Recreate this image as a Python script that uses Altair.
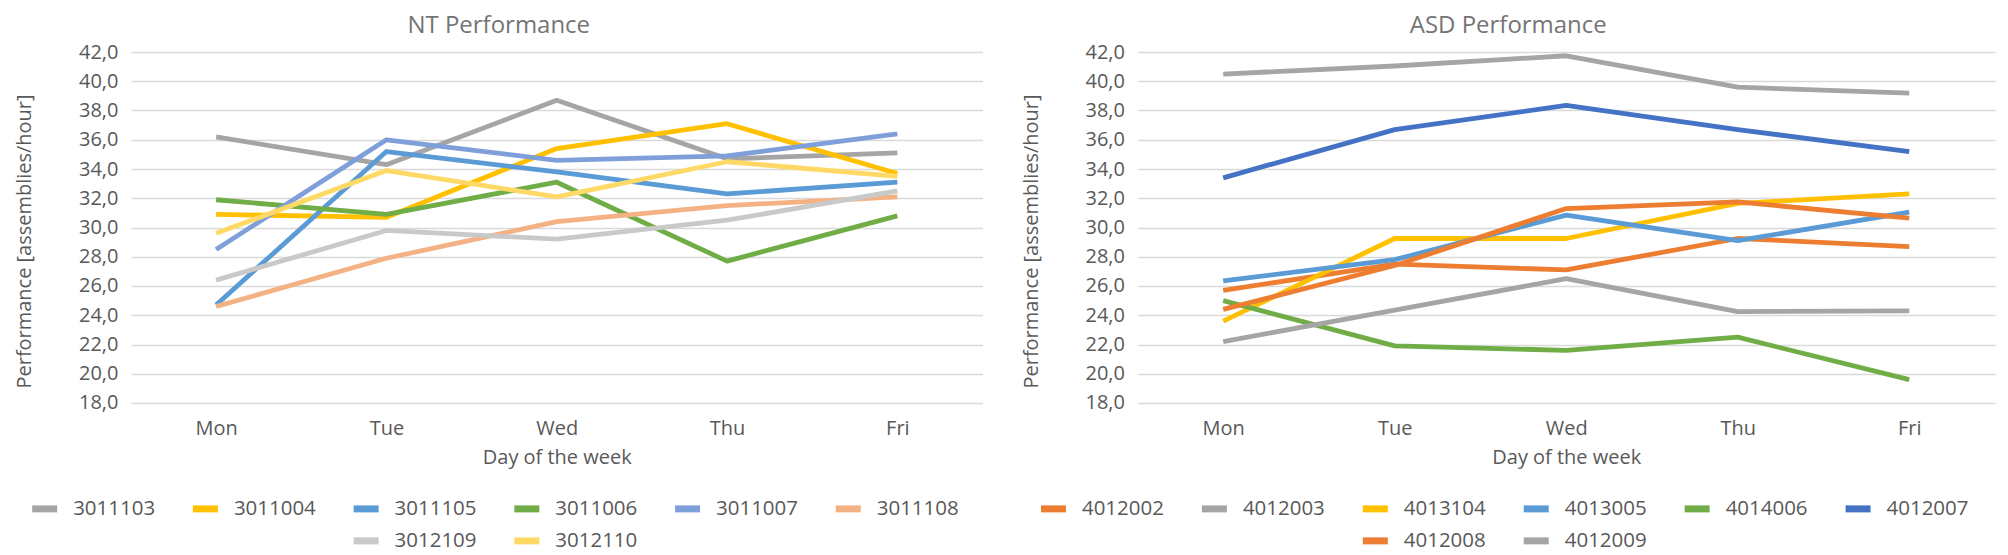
import altair as alt
import pandas as pd

FONT = "Open Sans"
TEXT = "#595959"

days = ["Mon", "Tue", "Wed", "Thu", "Fri"]

# ---------------- NT data ----------------
nt_names = ["3011103", "3011004", "3011105", "3011006", "3011007", "3011108", "3012109", "3012110"]
nt_colors = ["#A5A5A5", "#FFC000", "#5B9BD5", "#70AD47", "#7F9FDA", "#F4B183", "#C9C9C9", "#FFD966"]
nt_3011103 = [36.2, 34.3, 38.7, 34.7, 35.1]
nt_3011004 = [30.9, 30.7, 35.4, 37.1, 33.7]
nt_3011105 = [24.7, 35.2, 33.8, 32.3, 33.1]
nt_3011006 = [31.9, 30.9, 33.1, 27.7, 30.8]
nt_3011007 = [28.5, 36.0, 34.6, 34.9, 36.4]
nt_3011108 = [24.6, 27.9, 30.4, 31.5, 32.1]
nt_3012109 = [26.4, 29.8, 29.2, 30.5, 32.5]
nt_3012110 = [29.6, 33.9, 32.1, 34.5, 33.5]
nt_values = [nt_3011103, nt_3011004, nt_3011105, nt_3011006,
             nt_3011007, nt_3011108, nt_3012109, nt_3012110]
nt_leg_col = [0, 1, 2, 3, 4, 5, 2, 3]
nt_leg_row = [0, 0, 0, 0, 0, 0, 1, 1]

# ---------------- ASD data ----------------
asd_names = ["4012002", "4012003", "4013104", "4013005", "4014006", "4012007", "4012008", "4012009"]
asd_colors = ["#ED7D31", "#A5A5A5", "#FFC000", "#5B9BD5", "#70AD47", "#4472C4", "#ED7D31", "#A5A5A5"]
asd_4012002 = [25.7, 27.5, 27.1, 29.25, 28.7]
asd_4012003 = [40.5, 41.05, 41.75, 39.6, 39.2]
asd_4013104 = [23.6, 29.25, 29.25, 31.65, 32.3]
asd_4013005 = [26.35, 27.8, 30.85, 29.1, 31.05]
asd_4014006 = [25.0, 21.9, 21.6, 22.5, 19.6]
asd_4012007 = [33.4, 36.7, 38.35, 36.7, 35.2]
asd_4012008 = [24.4, 27.4, 31.3, 31.75, 30.65]
asd_4012009 = [22.2, 24.35, 26.5, 24.25, 24.3]
asd_values = [asd_4012002, asd_4012003, asd_4013104, asd_4013005,
              asd_4014006, asd_4012007, asd_4012008, asd_4012009]
asd_leg_col = [0, 1, 2, 3, 4, 5, 2, 3]
asd_leg_row = [0, 0, 0, 0, 0, 0, 1, 1]

y_ticks = list(range(18, 43, 2))

PLOT_H = 351
LEG_ROW0 = 457.0   # px below plot top
LEG_ROW_STEP = 32.0


def panel(title, names, colors, values, leg_col, leg_row, width, leg_x0, leg_step):
    rows = []
    for i, (n, vals) in enumerate(zip(names, values)):
        for d, v in zip(days, vals):
            rows.append({"day": d, "series": n, "value": v, "k": i})
    df = pd.DataFrame(rows)
    cscale = alt.Scale(domain=names, range=colors)

    lines = alt.Chart(df).mark_line(strokeWidth=4.8, strokeJoin="round").encode(
        x=alt.X("day:N", sort=days, scale=alt.Scale(padding=0.5),
                axis=alt.Axis(title="Day of the week", labelAngle=0, ticks=False, domain=False,
                              labelFontSize=20, labelFont=FONT, labelColor=TEXT, labelPadding=16,
                              titleFontSize=20, titleFont=FONT, titleColor=TEXT,
                              titleFontWeight="normal", titlePadding=9, grid=False)),
        y=alt.Y("value:Q", scale=alt.Scale(domain=[18, 42], nice=False, zero=False),
                axis=alt.Axis(values=y_ticks, labelExpr="replace(format(datum.value, '.1f'), '.', ',')",
                              ticks=False, domain=False, grid=True, gridColor="#D9D9D9", gridWidth=1.5,
                              labelFontSize=20, labelFont=FONT, labelColor=TEXT, labelPadding=13,
                              title="Performance [assemblies/hour]", titleFontSize=20, titleFont=FONT,
                              titleColor=TEXT, titleFontWeight="normal",
                              titleX=-96, titleY=189, titleAngle=-90, titleBaseline="bottom")),
        color=alt.Color("series:N", scale=cscale, legend=None),
    )

    leg = pd.DataFrame({"series": names, "col": leg_col, "row": leg_row})
    d0 = -leg_x0 / leg_step
    d1 = d0 + width / leg_step
    r0 = -LEG_ROW0 / LEG_ROW_STEP
    r1 = r0 + PLOT_H / LEG_ROW_STEP
    base = alt.Chart(leg).encode(
        x=alt.X("col:Q", scale=alt.Scale(domain=[d0, d1], nice=False, zero=False), axis=None),
        y=alt.Y("row:Q", scale=alt.Scale(domain=[r0, r1], nice=False, zero=False, reverse=True), axis=None),
    )
    sym = base.mark_tick(orient="horizontal", size=25, thickness=7, opacity=1).encode(
        color=alt.Color("series:N", scale=cscale, legend=None))
    txt = base.mark_text(align="left", baseline="middle", dx=28.5, fontSize=20.5, font=FONT,
                         color=TEXT).encode(text="series:N")

    return alt.layer(lines, sym, txt).resolve_scale(x="independent", y="independent").properties(
        width=width, height=PLOT_H,
        title=alt.TitleParams(title, fontSize=24, font=FONT, fontWeight="normal", color="#757575",
                              anchor="middle", frame="bounds", offset=4),
    )


left = panel("NT Performance", nt_names, nt_colors, nt_values, nt_leg_col, nt_leg_row,
             852, -86.3, 160.8)
right = panel("ASD Performance", asd_names, asd_colors, asd_values, asd_leg_col, asd_leg_row,
              858, -84.0, 161.0)

chart = alt.hconcat(left, right, spacing=38).resolve_scale(color="independent").properties(
    padding={"left": 6, "top": 6, "right": 5, "bottom": 0},
    background="white",
).configure_view(stroke=None)

chart.save("out.html", embed_options={"renderer": "svg", "actions": False})
